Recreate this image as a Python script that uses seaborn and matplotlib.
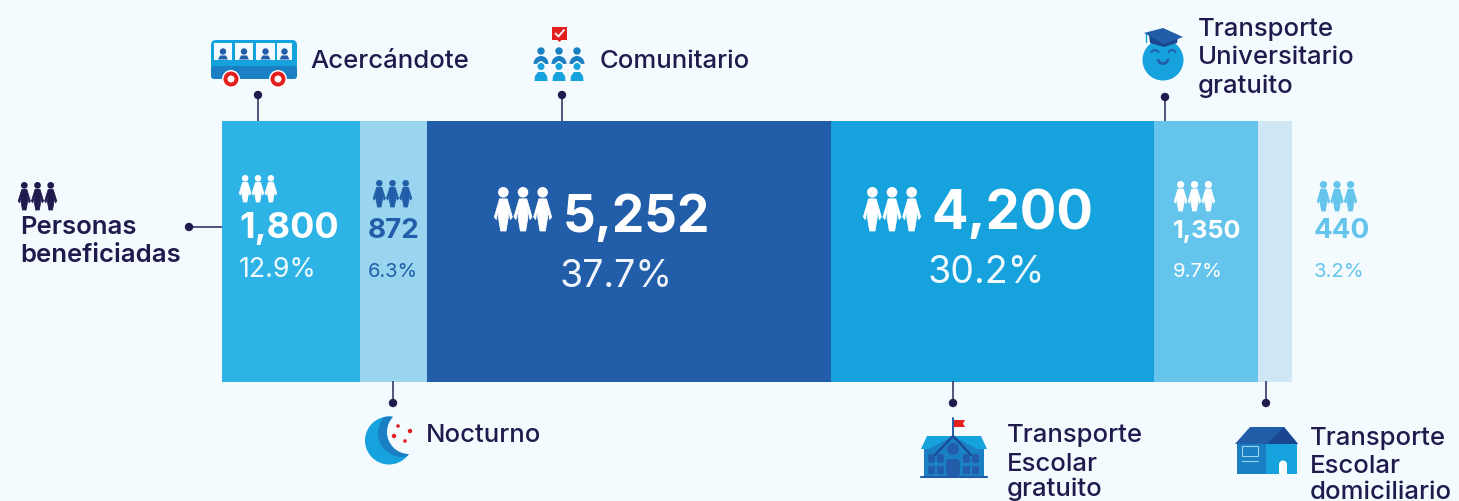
import matplotlib
matplotlib.use("Agg")
import matplotlib.pyplot as plt
import numpy as np
import pandas as pd
import seaborn as sns
from matplotlib.patches import Circle, Polygon, Rectangle, FancyBboxPatch, Arc

# ---- data ----
categories = ["Acercándote", "Nocturno", "Comunitario", "Transporte Escolar gratuito",
              "Transporte Universitario gratuito", "Transporte Escolar domiciliario"]
beneficiaries = [1800, 872, 5252, 4200, 1350, 440]
shares = [12.9, 6.3, 37.7, 30.2, 9.7, 3.2]
segment_colors = ["#2DB3E6", "#9AD5F0", "#215DA8", "#16A2DC", "#65C4EC", "#CFE6F4"]

BG, INK = "#F3FBFF", "#1F1B4D"
BLUE, MID, DARK = "#16A2DC", "#1B7FC4", "#215DA8"
RED = "#E4201F"
W, H = 1459, 502
FONT = "Inter"

sns.set_theme(style="white")
plt.rcParams["font.family"] = [FONT, "DejaVu Sans"]
fig = plt.figure(figsize=(W / 100, H / 100), dpi=100, facecolor=BG)

# ---- stacked bar through seaborn ----
ax = fig.add_axes([0, 0, 1, 1], facecolor=BG)
df = pd.DataFrame({"row": 0, "category": categories, "value": beneficiaries})
sns.histplot(df, y="row", weights="value", hue="category", hue_order=categories[::-1],
             multiple="stack", palette=dict(zip(categories, segment_colors)),
             discrete=True, shrink=1, alpha=1, linewidth=0, legend=False, ax=ax)
px_per_unit = (1292 - 221.6) / sum(beneficiaries)
ax.set_xlim(-221.6 / px_per_unit, (W - 221.6) / px_per_unit)
ax.set_ylim(0.5 - (H - 121.8) / 261, 0.5 + 121.8 / 261)
ax.axis("off")

# ---- pixel-space overlay for labels and pictograms ----
ov = fig.add_axes([0, 0, 1, 1], facecolor="none")
ov.set_xlim(0, W)
ov.set_ylim(H, 0)
ov.axis("off")


def person(x, top, w, h, color):
    ov.add_patch(Circle((x + w / 2, top + h * 0.12), h * 0.12, fc=color, lw=0))
    pts = [(.30, .27), (.70, .27), (.98, .68), (.88, .74), (.76, .50), (.76, .70), (.64, 1.0),
           (.36, 1.0), (.24, .70), (.24, .50), (.12, .74), (.02, .68)]
    ov.add_patch(Polygon([(x + a * w, top + b * h) for a, b in pts], fc=color, ec=color, lw=.6,
                         joinstyle="round"))


def trio(x0, x1, top, bottom, color):
    w = (x1 - x0) / 3.1
    for i in range(3):
        person(x0 + i * (x1 - x0 - w) / 2, top, w, bottom - top, color)


def txt(x, y, s, size, color=INK, weight="normal"):
    ov.text(x, y, s, fontsize=size, color=color, fontweight=weight, ha="left", va="baseline",
            family=[FONT, "DejaVu Sans"])


def leader(x0, y0, x1, y1):
    ov.plot([x0, x1], [y0, y1], color="#3A3763", lw=1.2, solid_capstyle="butt")
    ov.add_patch(Circle((x1, y1), 4.2, fc=INK, lw=0, zorder=5))


# ---- value labels ----
value_layout = [  # x, number base, pct x, pct base, number size, pct size, number color, pct color
    (239, 238, 239, 277, 26, 19.3, "white", "#F0FAFE"),
    (368, 238, 368, 277, 20, 14.4, DARK, DARK),
    (563, 232, 560, 287, 37, 27, "white", "#F0F5FB"),
    (931, 229, 928, 283, 39, 27, "white", "#F0FAFE"),
    (1173, 238, 1173, 277, 18.2, 14.6, "white", "white"),
    (1314, 238, 1314, 277, 20, 14.6, "#65C4EC", "#65C4EC"),
]
for v, s, (x, yn, xp, yp, sn, sp, cn, cp) in zip(beneficiaries, shares, value_layout):
    txt(x, yn, f"{v:,}", sn, cn, "bold")
    txt(xp, yp, f"{s}%", sp, cp, "normal")

trio(239, 277, 176, 203, "white")
trio(373, 412, 181, 208, DARK)
trio(494, 552, 188, 232, "white")
trio(863, 921, 188, 232, "white")
trio(1174, 1215, 182, 212, "white")
trio(1317, 1357, 182, 212, "#65C4EC")
trio(18, 57, 183, 211, INK)

# ---- category labels ----
LS, LW = 18.5, "medium"
txt(310, 68, "Acercándote", LS, INK, LW)
txt(600, 68, "Comunitario", LS, INK, LW)
txt(426, 442, "Nocturno", LS, INK, LW)
for y, s in zip((36, 64, 93), ("Transporte", "Universitario", "gratuito")):
    txt(1198, y, s, LS, INK, LW)
for y, s in zip((442.5, 471.5, 496.5), ("Transporte", "Escolar", "gratuito")):
    txt(1007, y, s, LS, INK, LW)
for y, s in zip((445.5, 473.5, 499), ("Transporte", "Escolar", "domiciliario")):
    txt(1310, y, s, LS, INK, LW)
txt(20, 234, "Personas", 18.5, INK, "semibold")
txt(20, 262, "beneficiadas", 18.5, INK, "semibold")

# ---- leaders ----
leader(258, 122, 258, 96)
leader(562, 122, 562, 96)
leader(1165, 122, 1165, 98)
leader(393, 382, 393, 404)
leader(953, 382, 953, 404)
leader(1266, 382, 1266, 404)
leader(222, 228, 189, 228)

# ---- bus ----
ov.add_patch(FancyBboxPatch((213, 43), 82, 35, boxstyle="round,pad=2,rounding_size=5", fc=BLUE, lw=0))
ov.add_patch(FancyBboxPatch((211, 67), 86, 13, boxstyle="round,pad=0,rounding_size=3", fc=MID, lw=0))
for x0, x1 in ((214, 232), (235, 253), (256, 275), (277, 292)):
    ov.add_patch(Rectangle((x0, 43.5), x1 - x0, 17, fc="#F3FBFF", lw=0))
    c = (x0 + x1) / 2
    ov.add_patch(Circle((c, 52.5), 3.2, fc=DARK, lw=0))
    ov.add_patch(Polygon([(c - 5, 60.5), (c - 3, 56.5), (c + 3, 56.5), (c + 5, 60.5)], fc=DARK, lw=0))
for c in (231, 278):
    ov.add_patch(Circle((c, 80), 9, fc="white", lw=0))
    ov.add_patch(Circle((c, 80), 7.5, fc=RED, lw=0))
    ov.add_patch(Circle((c, 80), 3.5, fc="white", lw=0))

# ---- community ----
ov.add_patch(Rectangle((552, 28), 15, 13, fc=RED, lw=0))
ov.plot([555.5, 558.5, 564], [34.5, 37.5, 31], color="white", lw=1.3)
ov.add_patch(Polygon([(557.5, 41), (561.5, 41), (559.5, 43)], fc=RED, lw=0))
for c in (541, 559, 577):
    ov.add_patch(Circle((c, 52), 3.7, fc=MID, lw=0))
    ov.add_patch(Arc((c, 65), 10, 11, theta1=180, theta2=360, color=MID, lw=3.6))
    ov.add_patch(Circle((c, 67.5), 4.2, fc=BLUE, ec=BG, lw=1))
    ov.add_patch(Polygon([(c - 6.5, 82), (c - 6, 77), (c - 3, 73), (c + 3, 73), (c + 6, 77), (c + 6.5, 82)],
                         fc=BLUE, lw=0))

# ---- moon ----
outer = Circle((389, 441.5), 24, fc=BLUE, lw=0)
ov.add_patch(outer)
dark = Circle((402, 434), 24, fc=MID, lw=0)
ov.add_patch(dark)
dark.set_clip_path(outer)
ov.add_patch(Circle((409, 433), 22, fc=BG, lw=0))
for p, r in (((398, 427), 1.8), ((410, 432), 2.2), ((394, 437), 2.2), ((405, 442), 1.8)):
    ov.add_patch(Circle(p, r, fc=RED, lw=0))

# ---- graduate ----
ov.add_patch(Circle((1163, 61), 20.5, fc=BLUE, lw=0))
ov.add_patch(Polygon([(1149, 36), (1178, 38), (1177, 44), (1164, 48), (1150, 44)], fc="#1A4690", lw=0))
ov.add_patch(Polygon([(1144, 34), (1163, 29), (1183, 38), (1164, 45)], fc=DARK, lw=0))
ov.plot([1146, 1146], [35, 43], color=BLUE, lw=1)
for c in (1155, 1172):
    ov.add_patch(Arc((c, 54), 7, 6, theta1=180, theta2=360, color=DARK, lw=1.4))
ov.add_patch(Arc((1163, 60), 10, 9, theta1=0, theta2=180, color=DARK, lw=2))

# ---- school ----
ov.plot([953, 953], [419, 436], color=DARK, lw=1.4)
ov.add_patch(Polygon([(954, 421), (965, 421), (963, 424.5), (965, 428), (954, 428)], fc=RED, lw=0))
ov.add_patch(Polygon([(921, 450), (927, 437), (981, 437), (987, 450)], fc=BLUE, lw=0))
ov.add_patch(Rectangle((924, 450), 60, 27, fc=MID, lw=0))
ov.add_patch(Polygon([(953, 437), (977, 450), (977, 477), (929, 477), (929, 450)], fc=MID, lw=0))
ov.plot([935, 953, 971], [456, 437, 456], color="#1A4690", lw=1.5)
ov.add_patch(Circle((953, 450), 6, fc=DARK, lw=0))
ov.add_patch(FancyBboxPatch((946, 460), 14, 17, boxstyle="round,pad=0,rounding_size=4", fc=DARK, lw=0))
for x0 in (928, 937, 963, 972):
    ov.add_patch(FancyBboxPatch((x0, 455), 7, 9, boxstyle="round,pad=0,rounding_size=2.5", fc=DARK, lw=0))
    ov.add_patch(Rectangle((x0, 466.5), 7, 8.5, fc=DARK, lw=0))
ov.plot([921, 987], [478, 478], color=DARK, lw=1.5)

# ---- house ----
ov.add_patch(Rectangle((1237, 445), 29, 30, fc=MID, lw=0))
ov.add_patch(Rectangle((1266, 445), 31, 30, fc=BLUE, lw=0))
ov.add_patch(Polygon([(1235, 445), (1250, 428), (1284, 428), (1298, 445)], fc=DARK, lw=0))
ov.add_patch(Polygon([(1267, 445), (1284, 428), (1298, 445)], fc="#1A4690", lw=0))
ov.add_patch(Rectangle((1279, 466), 8, 9, fc="white", lw=0))
ov.add_patch(Circle((1283, 465.5), 4, fc="white", lw=0))
ov.add_patch(Rectangle((1242, 447), 16, 10, fc="none", ec="#9AD5F0", lw=.8))
ov.plot([1242, 1258], [462, 462], color="#9AD5F0", lw=.8)

fig.savefig("out.png", dpi=100, facecolor=BG)
